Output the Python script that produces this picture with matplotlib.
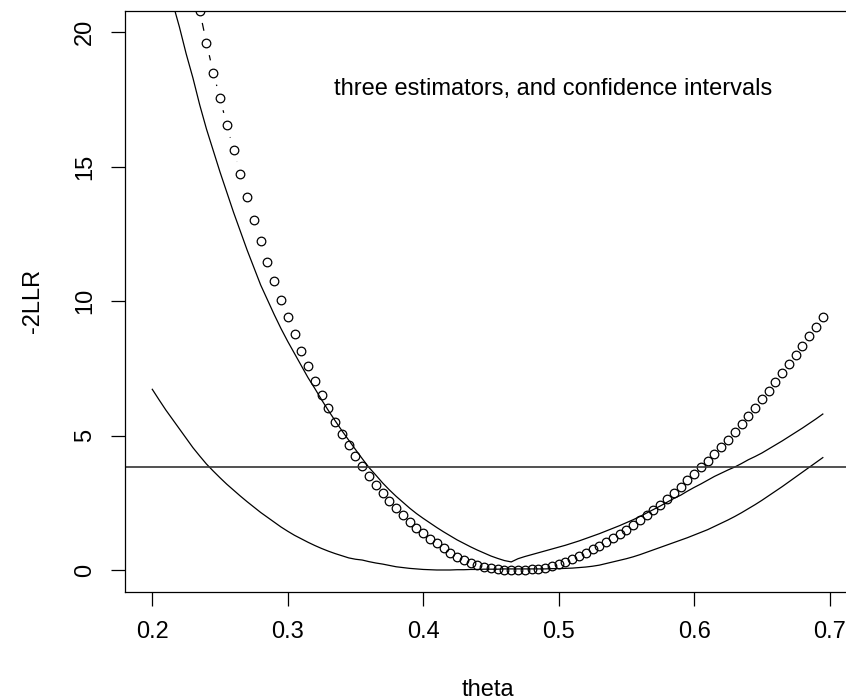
import matplotlib
matplotlib.use("Agg")
import matplotlib.pyplot as plt
import numpy as np
from matplotlib.collections import LineCollection

# theta grid (step 0.005)
theta = np.round(np.arange(0.200, 0.6951, 0.005), 3)

# estimator 1: plotted as circles joined by gapped lines (type = "b")
llr_circles = [
    30.0, 28.5, 27.0, 25.6, 24.3, 23.1, 21.9, 20.8, 19.6, 18.5,
    17.55, 16.55, 15.63, 14.73, 13.87, 13.02, 12.22, 11.46, 10.73, 10.05,
    9.40, 8.77, 8.16, 7.59, 7.03, 6.51, 6.01, 5.52, 5.07, 4.63,
    4.25, 3.87, 3.50, 3.17, 2.85, 2.55, 2.29, 2.04, 1.79, 1.56,
    1.36, 1.17, 0.99, 0.81, 0.64, 0.49, 0.37, 0.27, 0.19, 0.12,
    0.07, 0.035, 0.015, 0.003, 0.0, 0.005, 0.02, 0.05, 0.09, 0.15,
    0.22, 0.31, 0.41, 0.52, 0.64, 0.77, 0.90, 1.04, 1.19, 1.34,
    1.50, 1.67, 1.85, 2.03, 2.22, 2.42, 2.63, 2.85, 3.08, 3.33,
    3.57, 3.82, 4.07, 4.32, 4.58, 4.85, 5.14, 5.43, 5.73, 6.03,
    6.35, 6.67, 7.00, 7.32, 7.66, 8.00, 8.33, 8.70, 9.05, 9.40,
]

# estimator 2: steep solid curve with a kink near 0.465
llr_steep = [
    24.3, 23.2, 22.1, 21.1, 20.2, 19.2, 18.3, 17.3, 16.4, 15.6,
    14.8, 14.05, 13.3, 12.6, 11.9, 11.25, 10.6, 10.05, 9.5, 8.98,
    8.5, 8.05, 7.6, 7.15, 6.75, 6.33, 5.93, 5.55, 5.18, 4.83,
    4.48, 4.14, 3.81, 3.53, 3.24, 2.98, 2.74, 2.52, 2.30, 2.10,
    1.92, 1.75, 1.58, 1.42, 1.27, 1.12, 0.99, 0.86, 0.74, 0.63,
    0.52, 0.43, 0.35, 0.30, 0.42, 0.50, 0.57, 0.64, 0.71, 0.78,
    0.85, 0.92, 1.00, 1.08, 1.17, 1.26, 1.35, 1.45, 1.55, 1.65,
    1.76, 1.87, 1.99, 2.12, 2.25, 2.38, 2.52, 2.66, 2.78, 2.93,
    3.07, 3.20, 3.34, 3.48, 3.60, 3.72, 3.83, 3.96, 4.10, 4.22,
    4.35, 4.50, 4.65, 4.80, 4.96, 5.12, 5.28, 5.45, 5.62, 5.80,
]

# estimator 3: flat solid curve, minimum near 0.41
llr_flat = [
    6.72, 6.33, 5.95, 5.60, 5.25, 4.90, 4.55, 4.24, 3.94, 3.68,
    3.43, 3.19, 2.97, 2.75, 2.54, 2.34, 2.14, 1.96, 1.78, 1.60,
    1.44, 1.29, 1.16, 1.03, 0.91, 0.80, 0.70, 0.61, 0.53, 0.45,
    0.40, 0.37, 0.31, 0.26, 0.22, 0.17, 0.12, 0.09, 0.06, 0.04,
    0.02, 0.01, 0.0, 0.0, 0.0, 0.01, 0.01, 0.02, 0.02, 0.03,
    0.03, 0.03, 0.04, 0.04, 0.04, 0.04, 0.04, 0.04, 0.04, 0.05,
    0.05, 0.06, 0.07, 0.09, 0.11, 0.14, 0.18, 0.24, 0.30, 0.36,
    0.42, 0.49, 0.57, 0.66, 0.75, 0.84, 0.93, 1.02, 1.11, 1.20,
    1.30, 1.40, 1.50, 1.62, 1.74, 1.86, 1.99, 2.13, 2.28, 2.43,
    2.59, 2.76, 2.93, 3.10, 3.28, 3.46, 3.64, 3.82, 4.00, 4.18,
]

chi2_cut = 3.84
x_ticks = [0.2, 0.3, 0.4, 0.5, 0.6, 0.7]
y_ticks = [0, 5, 10, 15, 20]

plt.rcParams['font.family'] = ['Liberation Sans', 'DejaVu Sans']
FS = 17

fig = plt.figure(figsize=(8.46, 7.0), dpi=100)
ax = fig.add_axes([0.1483, 0.155, 0.856, 0.8297])
ax.set_xlim(0.1802, 0.7148)
ax.set_ylim(-0.8, 20.8)

ax.plot(theta, llr_steep, color='black', linewidth=0.9)
ax.plot(theta, llr_flat, color='black', linewidth=0.9)
ax.plot(theta, llr_circles, linestyle='none', marker='o', markersize=6.2,
        markerfacecolor='none', markeredgecolor='black', markeredgewidth=0.9)
ax.axhline(chi2_cut, color='#333333', linewidth=1.2)

# R-style type="b": line segments between points, with a gap around each point
fig.canvas.draw()
pts = ax.transData.transform(np.column_stack([theta, llr_circles]))
gap = 12.5
segs = []
for p1, p2 in zip(pts[:-1], pts[1:]):
    d = p2 - p1
    L = np.hypot(*d)
    if L > 2 * gap:
        u = d / L
        segs.append([p1 + u * gap, p2 - u * gap])
lc = LineCollection(segs, colors='black', linewidths=0.9, transform=None)
lc.set_clip_box(ax.bbox)
ax.add_artist(lc)

ax.text(0.496, 17.9, "three estimators, and confidence intervals",
        ha='center', va='center', fontsize=FS)

ax.set_xticks(x_ticks)
ax.set_xticklabels([str(v) for v in x_ticks])
ax.set_yticks(y_ticks)
ax.set_yticklabels([str(v) for v in y_ticks], rotation=90, va='center')
ax.tick_params(direction='out', length=10, width=0.9, labelsize=FS, pad=11)
ax.set_xlabel("theta", fontsize=FS, labelpad=26)
ax.set_ylabel("-2LLR", fontsize=FS, labelpad=22)
for sp in ax.spines.values():
    sp.set_linewidth(0.9)
# the right edge of the box lies just outside the picture
ax.spines['right'].set_visible(False)

fig.savefig("out.png", dpi=100)
